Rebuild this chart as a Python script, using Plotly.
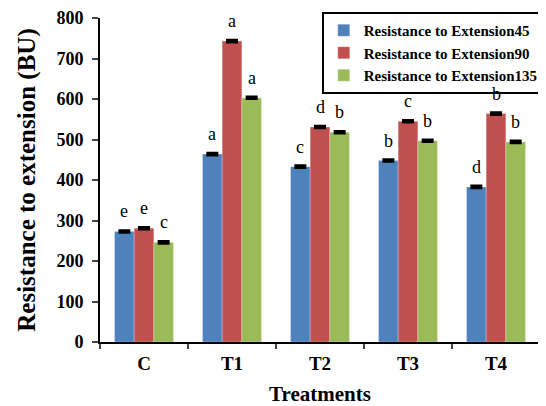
import plotly.graph_objects as go

categories = ["C", "T1", "T2", "T3", "T4"]
series_names = ["Resistance to Extension45", "Resistance to Extension90", "Resistance to Extension135"]
ext45 = [273, 464, 433, 448, 383]
ext90 = [281, 743, 531, 545, 564]
ext135 = [246, 603, 518, 497, 494]
err45 = [2, 2, 2, 2, 2]
err90 = [2, 2, 2, 2, 2]
err135 = [2, 2, 2, 2, 2]
letters45 = ["e", "a", "c", "b", "d"]
letters90 = ["e", "a", "d", "c", "b"]
letters135 = ["c", "a", "b", "b", "b"]
colors = ["#4F81BD", "#C0504D", "#9BBB59"]

font_family = "Liberation Serif"
fig = go.Figure()
all_vals = [ext45, ext90, ext135]
all_errs = [err45, err90, err135]
all_letters = [letters45, letters90, letters135]
for i, (name, vals, errs) in enumerate(zip(series_names, all_vals, all_errs)):
    fig.add_trace(go.Bar(
        x=categories, y=vals, name=name, legendgroup=str(i),
        marker=dict(color=colors[i], line=dict(color="rgba(255,255,255,0.5)", width=0.5)),
        error_y=dict(type="data", array=errs, color="black", thickness=3, width=6, visible=True),
        offsetgroup=str(i),
    ))

bar_w = (1 - 0.33) / 3
for i, (vals, lets) in enumerate(zip(all_vals, all_letters)):
    for j, (v, l) in enumerate(zip(vals, lets)):
        fig.add_annotation(
            x=j + (i - 1) * bar_w, y=v, xref="x", yref="y",
            text=l, showarrow=False, yanchor="bottom", yshift=8,
            font=dict(family=font_family, size=18, color="black"),
        )

# page body has an 8px margin, so the figure is made 8px smaller and margins shifted
fig.update_layout(
    width=538, height=398,
    margin=dict(l=92, r=1, t=10, b=64),
    paper_bgcolor="white", plot_bgcolor="white",
    barmode="group", bargap=0.33, bargroupgap=0,
    font=dict(family=font_family, color="black"),
    legend=dict(
        x=0.504, y=1.0185, xanchor="left", yanchor="top",
        bordercolor="black", borderwidth=2, bgcolor="white",
        font=dict(family=font_family, size=15, color="black", weight="bold"),
        tracegroupgap=0, itemwidth=30,
    ),
    showlegend=True,
)
fig.update_xaxes(
    type="category", tickson="boundaries", ticks="outside", ticklen=5, tickwidth=2,
    showline=True, linecolor="black", linewidth=2, range=[-0.5, 4.5],
    ticklabelstandoff=3,
    tickfont=dict(family=font_family, size=19, color="black", weight="bold"),
    title=dict(text="Treatments", font=dict(family=font_family, size=21, color="black", weight="bold"), standoff=18),
    showgrid=False, automargin=False,
)
fig.update_yaxes(
    range=[0, 800], dtick=100, ticks="outside", ticklen=6, tickwidth=2,
    showline=True, linecolor="black", linewidth=2, showgrid=False, zeroline=False,
    ticklabelstandoff=5,
    tickfont=dict(family=font_family, size=18, color="black", weight="bold"),
    title=dict(text="Resistance to extension (BU)", font=dict(family=font_family, size=25, color="black", weight="bold"), standoff=14),
    automargin=False,
)
fig.write_html("out.html")
